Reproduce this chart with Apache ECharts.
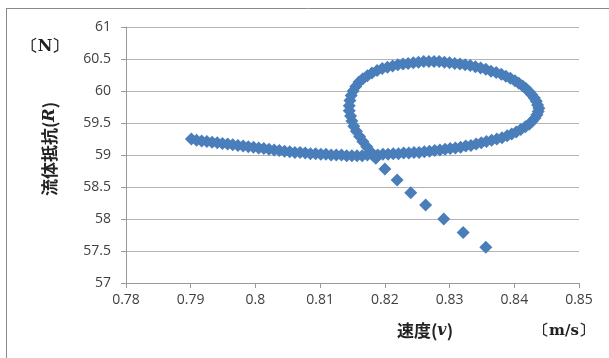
<!DOCTYPE html>
<html><head><meta charset="utf-8">
<script src="https://cdn.jsdelivr.net/npm/echarts@6/dist/echarts.min.js"></script>
<style>html,body{margin:0;padding:0;background:#fff}#c{width:609px;height:358px}</style>
</head><body><div id="c"></div>
<script>
// velocity (m/s) along the trajectory
var velocity = [
0.8356,0.8321,0.8291,0.8263,0.8240,0.8219,0.8200,0.8186,
0.8178,0.8172,0.8166,0.8161,0.8156,0.8152,0.8149,0.8147,0.8145,0.8145,0.8146,0.8148,0.8151,0.8155,0.8160,0.8166,0.8173,0.8180,0.8188,0.8196,
0.8204,0.8212,0.8220,0.8228,0.8236,0.8244,0.8252,0.8260,0.8268,0.8276,0.8284,0.8292,0.8300,0.8308,0.8316,0.8324,0.8332,0.8340,0.8348,0.8356,
0.8364,0.8372,0.8380,0.8387,0.8394,0.8401,0.8407,0.8413,0.8418,0.8423,0.8427,0.8431,0.8434,0.8436,0.8438,0.8437,0.8435,0.8432,0.8428,0.8423,
0.8417,0.8410,0.8403,0.8396,0.8389,0.8381,0.8373,0.8365,0.8357,0.8349,0.8341,0.8333,0.8325,0.8317,0.8309,0.8301,0.8293,0.8285,0.8277,0.8269,
0.8261,0.8253,0.8245,0.8237,0.8229,0.8221,0.8213,0.8205,0.8197,0.8189,0.8181,0.8173,0.8165,0.8157,0.8149,0.8141,0.8133,0.8125,0.8117,0.8109,
0.8101,0.8093,0.8085,0.8077,0.8069,0.8061,0.8053,0.8045,0.8037,0.8029,0.8021,0.8013,0.8005,0.7997,0.7989,0.7981,0.7973,0.7965,0.7957,0.7949,
0.7941,0.7933,0.7925,0.7917,0.7909,0.7901
];
// fluid resistance (N) along the trajectory
var resistance = [
57.56,57.79,58.00,58.22,58.41,58.61,58.78,58.95,
59.05,59.13,59.21,59.29,59.37,59.45,59.53,59.61,59.69,59.77,59.85,59.93,60.00,60.07,60.14,60.19,60.24,60.28,60.32,60.35,
60.37,60.39,60.41,60.42,60.43,60.44,60.45,60.46,60.46,60.46,60.46,60.45,60.44,60.43,60.42,60.41,60.40,60.38,60.36,60.34,
60.31,60.29,60.26,60.23,60.20,60.16,60.12,60.08,60.04,59.99,59.94,59.89,59.84,59.78,59.73,59.68,59.63,59.58,59.53,59.48,
59.44,59.40,59.36,59.33,59.30,59.27,59.25,59.23,59.21,59.19,59.17,59.15,59.14,59.12,59.11,59.10,59.09,59.08,59.07,59.06,
59.05,59.04,59.04,59.03,59.03,59.02,59.02,59.01,59.01,59.00,59.00,59.00,58.99,58.99,58.99,58.99,59.00,59.00,59.00,59.01,
59.01,59.02,59.02,59.03,59.04,59.04,59.05,59.06,59.07,59.08,59.09,59.10,59.11,59.12,59.13,59.14,59.15,59.16,59.17,59.18,
59.19,59.20,59.21,59.22,59.23,59.25
];
var xTicks = [0.78,0.79,0.80,0.81,0.82,0.83,0.84,0.85];
var yTicks = [57,57.5,58,58.5,59,59.5,60,60.5,61];

var pts = velocity.map(function(v,i){return [v,resistance[i]];});
var chart = echarts.init(document.getElementById('c'),null,{renderer:'canvas'});
var labelFont = {color:'#404040',fontSize:14,fontFamily:'Open Sans'};
chart.setOption({
  animation:false,
  grid:{left:126,right:30,top:27,bottom:75},
  xAxis:{type:'value',min:xTicks[0],max:xTicks[xTicks.length-1],interval:0.01,
    axisLine:{lineStyle:{color:'#9a9a9a'}},
    axisTick:{show:true,length:5,lineStyle:{color:'#9a9a9a'}},
    splitLine:{show:false},
    axisLabel:Object.assign({margin:10,formatter:function(v){return v.toFixed(2).replace(/0$/,'').replace(/\.$/,'');}},labelFont)},
  yAxis:{type:'value',min:yTicks[0],max:yTicks[yTicks.length-1],interval:0.5,
    axisLine:{show:true,lineStyle:{color:'#9a9a9a'}},
    axisTick:{show:true,length:5,lineStyle:{color:'#9a9a9a'}},
    splitLine:{lineStyle:{color:'#b4b4b4'}},
    axisLabel:Object.assign({margin:15},labelFont)},
  series:[{type:'scatter',data:pts,symbol:'diamond',symbolSize:13,
    itemStyle:{color:'#4a7ebb',opacity:1}}],
  graphic:[
    {type:'line',shape:{x1:6,y1:8.5,x2:609,y2:8.5},style:{stroke:'#8a8a8a',lineWidth:1}},
    {type:'line',shape:{x1:6.5,y1:8,x2:6.5,y2:358},style:{stroke:'#8a8a8a',lineWidth:1}},
    {type:'text',x:45,y:47,style:{text:'〔N〕',font:'bold 16px "DejaVu Serif"',fill:'#222',align:'center',verticalAlign:'middle'}},
    {type:'text',x:50,y:149,rotation:Math.PI/2,style:{text:'流体抵抗({b|R})',font:'bold 17px "Noto Sans CJK JP"',fill:'#222',align:'center',verticalAlign:'middle',
      rich:{b:{font:'italic bold 16px "DejaVu Serif"',fill:'#222'}}}},
    {type:'text',x:425,y:331,style:{text:'速度({b|v})',font:'bold 17px "Noto Sans CJK JP"',fill:'#222',align:'center',verticalAlign:'middle',
      rich:{b:{font:'italic bold 16px "DejaVu Serif"',fill:'#222'}}}},
    {type:'text',x:564,y:331,style:{text:'〔m/s〕',font:'bold 15px "DejaVu Serif"',fill:'#222',align:'center',verticalAlign:'middle'}}
  ]
});
</script></body></html>
